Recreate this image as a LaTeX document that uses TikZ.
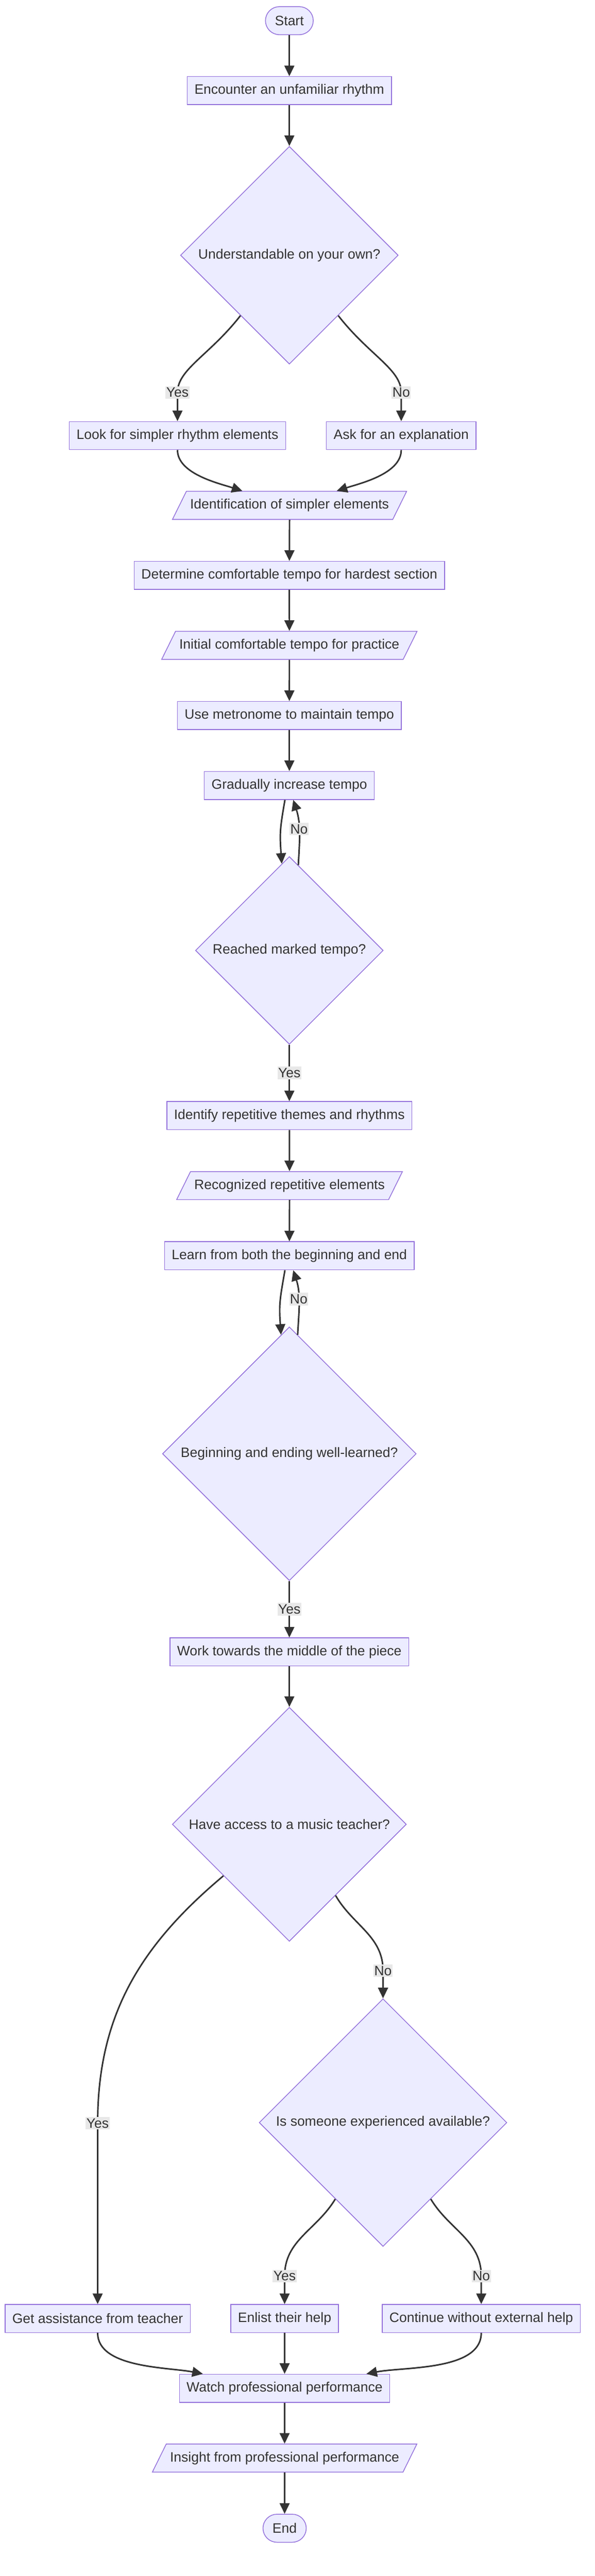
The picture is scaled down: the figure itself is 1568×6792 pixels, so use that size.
\documentclass[tikz,border=0pt]{standalone}
\usepackage{fontspec}
\setmainfont{Liberation Sans}
\usepackage{tikz}
\usetikzlibrary{shapes,arrows.meta,positioning}

\definecolor{nodefill}{HTML}{ECECFF}
\definecolor{nodeline}{HTML}{9370DB}
\definecolor{flowline}{HTML}{333333}
\definecolor{answerbg}{HTML}{E8E8E8}

\tikzset{
  procbox/.style={rectangle, draw=nodeline, fill=nodefill, line width=1pt, minimum height=37pt, inner xsep=9.5pt, text=flowline, font=\fontsize{18}{21}\selectfont},
  termbox/.style={procbox, rounded corners=18.5pt, inner xsep=12.5pt},
  databox/.style={procbox, trapezium, trapezium left angle=63.7, trapezium right angle=116.3, minimum height=0pt, inner xsep=5pt, inner ysep=10pt, text height=13.2pt, text depth=3.8pt},
  decision/.style={procbox, diamond, aspect=1, inner sep=0pt, minimum size=#1},
  flow/.style={draw=flowline, line width=2pt, -{Triangle[length=14pt,width=13pt]}},
  answer/.style={fill=answerbg, text=flowline, inner xsep=1pt, inner ysep=2pt, font=\fontsize{18}{21}\selectfont},
}

\begin{document}
\begin{tikzpicture}[x=0.5pt, y=-0.5pt]
    \useasboundingbox (0,0) rectangle (1568,6792);

    % First look at the rhythm
    \node[termbox] (start) at (763,54.5) {Start};
    \node[procbox] (meet) at (763,239) {Encounter an unfamiliar rhythm};
    \node[decision=287pt] (own) at (763,673) {Understandable on your own?};
    \node[procbox] (simpler) at (468,1148.5) {Look for simpler rhythm elements};
    \node[procbox] (explain) at (1058,1148.5) {Ask for an explanation};
    \node[databox] (found) at (763.5,1332.5) {Identification of simpler elements};

    % Tempo work
    \node[procbox] (hardest) at (763,1517) {Determine comfortable tempo for hardest section};
    \node[databox] (firsttempo) at (763,1701.5) {Initial comfortable tempo for practice};
    \node[procbox] (metro) at (763,1886.5) {Use metronome to maintain tempo};
    \node[procbox] (faster) at (763,2071) {Gradually increase tempo};
    \node[decision=247.5pt] (marked) at (763,2506) {Reached marked tempo?};

    % Structure of the piece
    \node[procbox] (themes) at (763,2941.5) {Identify repetitive themes and rhythms};
    \node[databox] (repeats) at (763.5,3126) {Recognized repetitive elements};
    \node[procbox] (ends) at (763,3311) {Learn from both the beginning and end};
    \node[decision=334.5pt] (learned) at (763,3833) {Beginning and ending well-learned?};
    \node[procbox] (middle) at (763,4355.5) {Work towards the middle of the piece};

    % Getting help
    \node[decision=308.5pt] (teacher) at (763,4810) {Have access to a music teacher?};
    \node[decision=326.5pt] (someone) at (1010,5596.5) {Is someone experienced available?};
    \node[procbox] (askteach) at (257.5,6113) {Get assistance from teacher};
    \node[procbox] (enlist) at (750.5,6113) {Enlist their help};
    \node[procbox] (alone) at (1269,6113) {Continue without external help};
    \node[procbox] (watch) at (750.5,6297) {Watch professional performance};
    \node[databox] (insight) at (750.5,6481) {Insight from professional performance};
    \node[termbox] (finish) at (750.5,6666) {End};

    % label points
    \coordinate (ownyes) at (468,1035);
    \coordinate (ownno) at (1058,1035);
    \coordinate (teachyes) at (257.5,5598);
    \coordinate (teachno) at (1010,5196);
    \coordinate (helpyes) at (750.5,6001);
    \coordinate (helpno) at (1269,6001);

    \draw[flow] (start) -- (meet);
    \draw[flow] (meet) -- (own);
    \draw[flow] (own.231) to[out=232, in=90, out looseness=1.3, in looseness=0.6] (ownyes) -- node[answer, pos=0] {Yes} (simpler);
    \draw[flow] (own.309) to[out=308, in=90, out looseness=1.3, in looseness=0.6] (ownno) -- node[answer, pos=0] {No} (explain);
    \draw[flow] (simpler.south) to[out=270, in=162, looseness=0.8] (found.163);
    \draw[flow] (explain.south) to[out=270, in=18, looseness=0.8] (found.17);
    \draw[flow] (found) -- (hardest);
    \draw[flow] (hardest) -- (firsttempo);
    \draw[flow] (firsttempo) -- (metro);
    \draw[flow] (metro) -- (faster);

    % tempo loop
    \draw[flow] (faster.253) to[out=260, in=94, looseness=1.2] (marked.95);
    \draw[flow] (marked.84) to[out=87, in=288] node[answer, pos=0.55] {No} (faster.285);
    \draw[flow] (marked) -- node[answer] {Yes} (themes);
    \draw[flow] (themes) -- (repeats);
    \draw[flow] (repeats) -- (ends);

    % learning loop
    \draw[flow] (ends.253) to[out=260, in=94, looseness=1.2] (learned.94);
    \draw[flow] (learned.86) to[out=87, in=288] node[answer, pos=0.55] {No} (ends.285);
    \draw[flow] (learned) -- node[answer] {Yes} (middle);
    \draw[flow] (middle) -- (teacher);

    \draw[flow] (teacher.218) to[out=220, in=90] (teachyes) -- node[answer, pos=0] {Yes} (askteach);
    \draw[flow] (teacher.303) to[out=300, in=90] (teachno) -- node[answer, pos=0] {No} (someone);
    \draw[flow] (someone.238) to[out=239, in=90] (helpyes) -- node[answer, pos=0] {Yes} (enlist);
    \draw[flow] (someone.302) to[out=301, in=90] (helpno) -- node[answer, pos=0] {No} (alone);
    \draw[flow] (askteach.south) to[out=270, in=169, looseness=0.8] (watch.170);
    \draw[flow] (enlist) -- (watch);
    \draw[flow] (alone.south) to[out=270, in=11, looseness=0.8] (watch.10);
    \draw[flow] (watch) -- (insight);
    \draw[flow] (insight) -- (finish);
\end{tikzpicture}
\end{document}
